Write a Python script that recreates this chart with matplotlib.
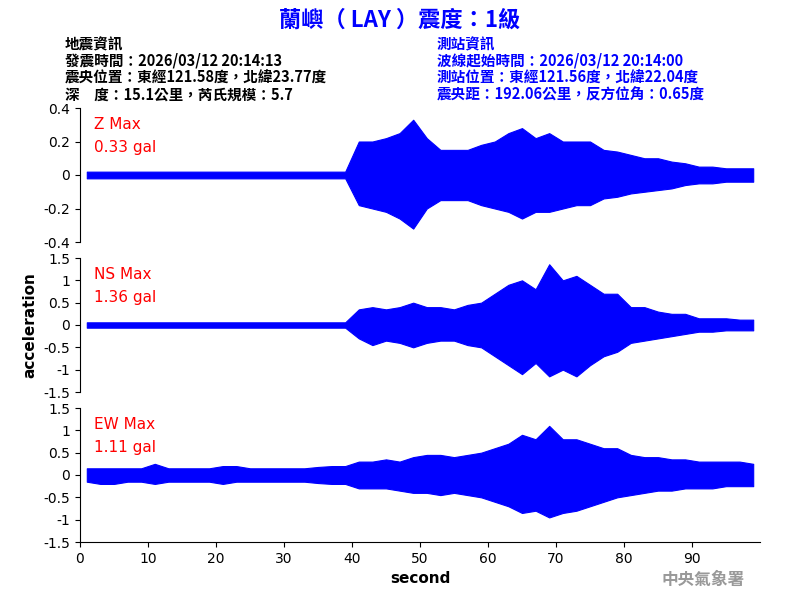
import matplotlib
matplotlib.use("Agg")
import matplotlib.pyplot as plt
import numpy as np

plt.rcParams['font.family'] = ['Noto Sans CJK TC', 'DejaVu Sans']

# envelope of signal per 2-second bin (0..100 s)
t_centers = list(range(1, 100, 2))
z_up = [0.02]*20 + [0.2,0.2,0.22,0.25,0.33,0.22,0.15,0.15,0.15,0.18,0.2,0.25,0.28,0.22,0.25,0.2,0.2,0.2,0.15,0.14,0.12,0.1,0.1,0.08,0.07,0.05,0.05,0.04,0.04,0.04]
z_lo = [0.02]*20 + [0.18,0.2,0.22,0.26,0.32,0.2,0.15,0.15,0.15,0.18,0.2,0.22,0.26,0.22,0.22,0.2,0.18,0.18,0.14,0.13,0.11,0.1,0.09,0.08,0.06,0.05,0.05,0.04,0.04,0.04]
ns_up = [0.06]*20 + [0.35,0.4,0.35,0.4,0.5,0.4,0.4,0.35,0.45,0.5,0.7,0.9,1.0,0.8,1.36,1.0,1.1,0.9,0.7,0.7,0.4,0.4,0.3,0.25,0.25,0.15,0.15,0.15,0.12,0.12]
ns_lo = [0.06]*20 + [0.3,0.45,0.35,0.4,0.5,0.4,0.35,0.35,0.45,0.5,0.7,0.9,1.1,0.85,1.15,1.0,1.15,0.9,0.7,0.6,0.4,0.35,0.3,0.25,0.2,0.15,0.15,0.12,0.12,0.12]
ew_up = [0.15,0.15,0.15,0.15,0.15,0.25,0.15,0.15,0.15,0.15,0.2,0.2,0.15,0.15,0.15,0.15,0.15,0.18,0.2,0.2,0.3,0.3,0.35,0.3,0.4,0.45,0.45,0.4,0.45,0.5,0.6,0.7,0.9,0.8,1.1,0.8,0.8,0.7,0.6,0.6,0.45,0.4,0.4,0.35,0.35,0.3,0.3,0.3,0.3,0.25]
ew_lo = [0.15,0.2,0.2,0.15,0.15,0.2,0.15,0.15,0.15,0.15,0.2,0.15,0.15,0.15,0.15,0.15,0.15,0.18,0.2,0.2,0.3,0.3,0.3,0.35,0.4,0.4,0.45,0.4,0.45,0.5,0.6,0.7,0.85,0.8,0.95,0.85,0.8,0.7,0.6,0.5,0.45,0.4,0.35,0.35,0.3,0.3,0.3,0.25,0.25,0.25]

panels = [("Z Max", "0.33 gal", z_up, z_lo, 0.4, [-0.4,-0.2,0,0.2,0.4], ["-0.4","-0.2","0","0.2","0.4"]),
          ("NS Max", "1.36 gal", ns_up, ns_lo, 1.5, [-1.5,-1,-0.5,0,0.5,1,1.5], ["-1.5","-1","-0.5","0","0.5","1","1.5"]),
          ("EW Max", "1.11 gal", ew_up, ew_lo, 1.5, [-1.5,-1,-0.5,0,0.5,1,1.5], ["-1.5","-1","-0.5","0","0.5","1","1.5"])]

fig = plt.figure(figsize=(8, 6), dpi=100)
tops = [108, 258, 408]
for i, (n1, n2, up, lo, lim, ticks, tl) in enumerate(panels):
    ax = fig.add_axes([80/800, 1-(tops[i]+134)/600, 680/800, 134/600])
    x = np.array(t_centers)
    ax.fill_between(x, -np.array(lo), np.array(up), color='#0000ff', lw=0.8)
    ax.set_xlim(0, 100)
    ax.set_ylim(-lim, lim)
    ax.set_yticks(ticks)
    ax.set_yticklabels(tl, fontsize=10, family='DejaVu Sans')
    for s in ['top', 'right']:
        ax.spines[s].set_visible(False)
    if i < 2:
        ax.spines['bottom'].set_visible(False)
        ax.set_xticks([])
    else:
        ax.set_xticks(range(0, 100, 10))
        ax.set_xticklabels([str(v) for v in range(0, 100, 10)], fontsize=10, family='DejaVu Sans')
        ax.set_xlabel("second", fontsize=11, family='DejaVu Sans', fontweight='bold')
    ax.text(0.02, 0.93, n1, transform=ax.transAxes, color='red', fontsize=11, va='top', family='DejaVu Sans')
    ax.text(0.02, 0.76, n2, transform=ax.transAxes, color='red', fontsize=11, va='top', family='DejaVu Sans')
    if i == 1:
        ax.set_ylabel("acceleration", fontsize=11, family='DejaVu Sans', fontweight='bold')

fig.text(0.5, 1-20/600, "蘭嶼（ LAY ）震度：1級", color='#0000ff', fontsize=16, fontweight='bold', ha='center', va='center')
left = ["地震資訊", "發震時間：2026/03/12 20:14:13", "震央位置：東經121.58度，北緯23.77度", "深　度：15.1公里，芮氏規模：5.7"]
right = ["測站資訊", "波線起始時間：2026/03/12 20:14:00", "測站位置：東經121.56度，北緯22.04度", "震央距：192.06公里，反方位角：0.65度"]
for k, (a, b) in enumerate(zip(left, right)):
    y = 1 - (44 + k*17)/600
    fig.text(65/800, y, a, color='black', fontsize=10.5, va='center', fontweight='bold')
    fig.text(437/800, y, b, color='#0000ff', fontsize=10.5, va='center', fontweight='bold')
fig.text(745/800, 1-580/600, "中央氣象署", color='#999999', fontsize=12, ha='right', va='center', fontweight='bold')
fig.savefig("out.png", dpi=100)
